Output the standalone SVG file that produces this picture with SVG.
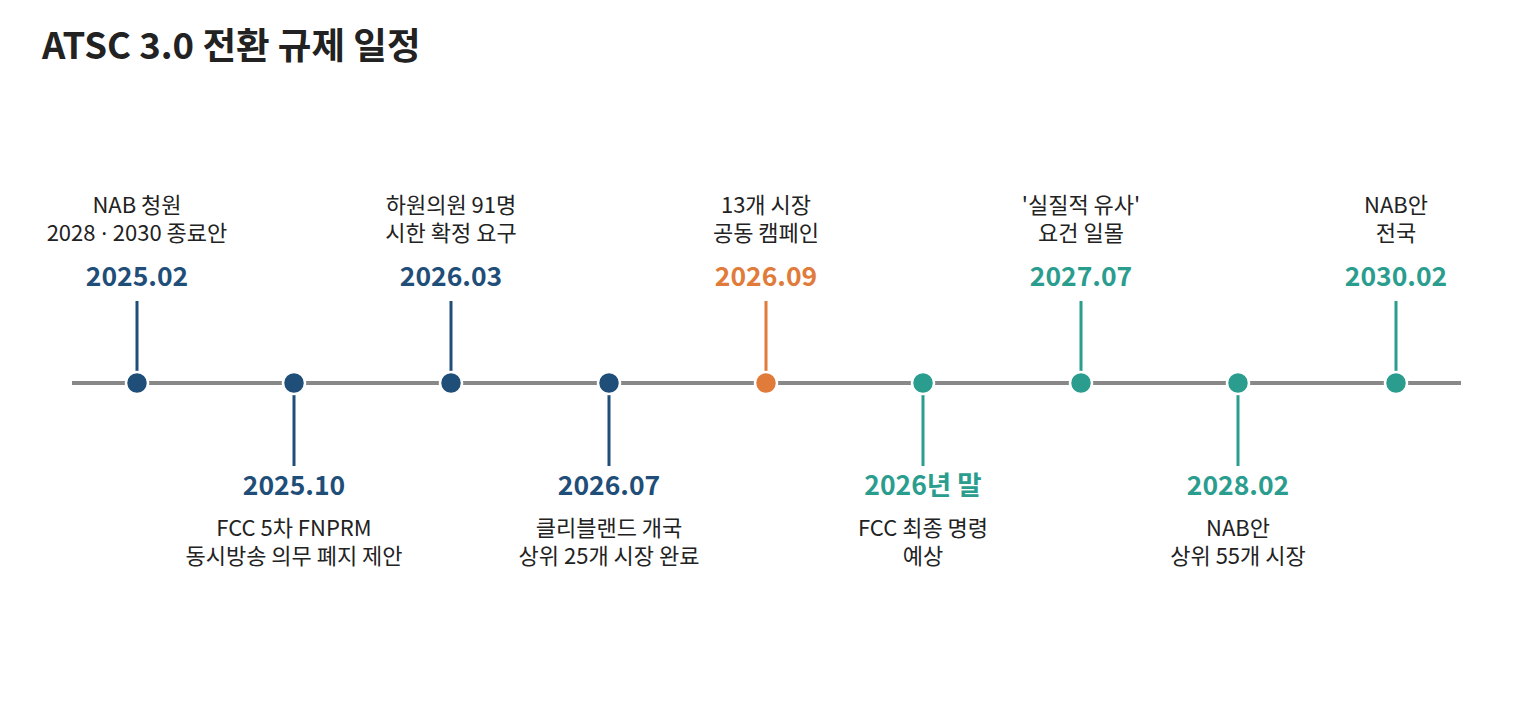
<svg xmlns="http://www.w3.org/2000/svg" width="1520" height="720" viewBox="0 0 1520 720">
<style>
text{font-family:"Noto Sans CJK KR","Noto Sans",sans-serif;text-anchor:middle}
.title{font-size:36.5px;font-weight:700;fill:#222;text-anchor:start}
.date{font-size:26.5px;font-weight:700}
.desc{font-size:22px;fill:#222}
.navy{fill:#1f4e79}.orange{fill:#e07b39}.teal{fill:#2a9d8f}
.sn{stroke:#1f4e79}.so{stroke:#e07b39}.st{stroke:#2a9d8f}
.stem{stroke-width:3}
.dot{stroke:#fff;stroke-width:2.5}
</style>
<rect width="1520" height="720" fill="#fff"/>
<text class="title" x="42" y="59">ATSC 3.0 전환 규제 일정</text>
<g id="connectors">
<line x1="72" y1="383" x2="1461" y2="383" stroke="#888" stroke-width="4"/>
<line class="stem sn" x1="137" y1="301" x2="137" y2="372"/>
<line class="stem sn" x1="294" y1="395" x2="294" y2="466"/>
<line class="stem sn" x1="451" y1="301" x2="451" y2="372"/>
<line class="stem sn" x1="609" y1="395" x2="609" y2="466"/>
<line class="stem so" x1="766" y1="301" x2="766" y2="372"/>
<line class="stem st" x1="923" y1="395" x2="923" y2="466"/>
<line class="stem st" x1="1081" y1="301" x2="1081" y2="372"/>
<line class="stem st" x1="1238" y1="395" x2="1238" y2="466"/>
<line class="stem st" x1="1396" y1="301" x2="1396" y2="372"/>
</g>
<g id="n1"><circle class="dot navy" cx="137" cy="383" r="11"/><text class="date navy" x="137" y="286">2025.02</text><text class="desc"><tspan x="137" y="213">NAB 청원</tspan><tspan x="137" y="241">2028<tspan font-family="Noto Sans"> · </tspan>2030 종료안</tspan></text></g>
<g id="n2"><circle class="dot navy" cx="294" cy="383" r="11"/><text class="date navy" x="294" y="495">2025.10</text><text class="desc"><tspan x="294" y="536">FCC 5차 FNPRM</tspan><tspan x="294" y="564">동시방송 의무 폐지 제안</tspan></text></g>
<g id="n3"><circle class="dot navy" cx="451" cy="383" r="11"/><text class="date navy" x="451" y="286">2026.03</text><text class="desc"><tspan x="451" y="213">하원의원 91명</tspan><tspan x="451" y="241">시한 확정 요구</tspan></text></g>
<g id="n4"><circle class="dot navy" cx="609" cy="383" r="11"/><text class="date navy" x="609" y="495">2026.07</text><text class="desc"><tspan x="609" y="536">클리블랜드 개국</tspan><tspan x="609" y="564">상위 25개 시장 완료</tspan></text></g>
<g id="n5"><circle class="dot orange" cx="766" cy="383" r="11"/><text class="date orange" x="766" y="286">2026.09</text><text class="desc"><tspan x="766" y="213">13개 시장</tspan><tspan x="766" y="241">공동 캠페인</tspan></text></g>
<g id="n6"><circle class="dot teal" cx="923" cy="383" r="11"/><text class="date teal" x="923" y="495">2026년 말</text><text class="desc"><tspan x="923" y="536">FCC 최종 명령</tspan><tspan x="923" y="564">예상</tspan></text></g>
<g id="n7"><circle class="dot teal" cx="1081" cy="383" r="11"/><text class="date teal" x="1081" y="286">2027.07</text><text class="desc"><tspan x="1081" y="213">'실질적 유사'</tspan><tspan x="1081" y="241">요건 일몰</tspan></text></g>
<g id="n8"><circle class="dot teal" cx="1238" cy="383" r="11"/><text class="date teal" x="1238" y="495">2028.02</text><text class="desc"><tspan x="1238" y="536">NAB안</tspan><tspan x="1238" y="564">상위 55개 시장</tspan></text></g>
<g id="n9"><circle class="dot teal" cx="1396" cy="383" r="11"/><text class="date teal" x="1396" y="286">2030.02</text><text class="desc"><tspan x="1396" y="213">NAB안</tspan><tspan x="1396" y="241">전국</tspan></text></g>
</svg>
